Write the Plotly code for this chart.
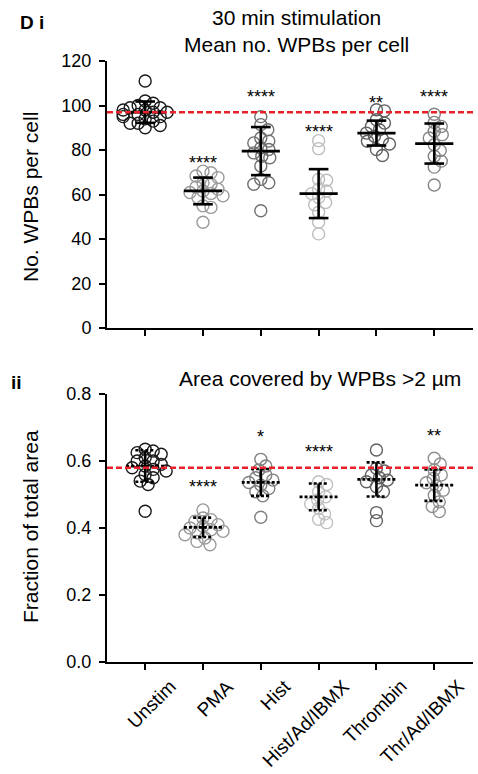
import numpy as np
import plotly.graph_objects as go
from plotly.subplots import make_subplots

categories = ["Unstim", "PMA", "Hist", "Hist/Ad/IBMX", "Thrombin", "Thr/Ad/IBMX"]

# Panel i: mean no. WPBs per cell
wpb_unstim = [111, 102, 101, 100, 99, 99, 98, 98, 97, 97, 96, 96, 95, 95, 94, 93, 92, 92, 91, 90]
wpb_pma = [70.5, 69.8, 68.3, 67.6, 65.3, 64.6, 63.4, 62.4, 61.6, 60.9, 60.5, 59.4, 58.6, 54.9, 54.2, 47.5]
wpb_hist = [95, 91.4, 89.1, 85.4, 84, 83.2, 80.9, 80.2, 78.7, 77.2, 76.5, 72.8, 66.8, 65.3, 64.6, 52.7]
wpb_histad = [84.2, 80.6, 66.8, 66.4, 62.4, 61.6, 60.4, 58.6, 56.4, 55.4, 52, 47.5, 42.3]
wpb_thr = [98.1, 97.6, 93.6, 92.1, 90.6, 89.1, 87.6, 86.2, 85, 83.9, 82.7, 80.2, 77.5]
wpb_thrad = [96.1, 92.4, 90.6, 88.4, 86.9, 85.4, 82.4, 79.8, 77.2, 75, 72.3, 64.3]
wpb_mean = [97, 61.6, 79.5, 60.4, 87.6, 82.9]
wpb_sd = [4.8, 6.0, 10.8, 11.0, 5.6, 9.0]
wpb_stars = ["", "****", "****", "****", "**", "****"]
wpb_star_y = [None, 74, 104, 88, 101, 104]
wpb_ref = 97

# Panel ii: fraction of total area
area_unstim = [0.635, 0.63, 0.625, 0.62, 0.61, 0.6, 0.6, 0.59, 0.585, 0.58, 0.575, 0.57, 0.56, 0.55, 0.54, 0.53, 0.45]
area_pma = [0.454, 0.43, 0.425, 0.42, 0.41, 0.405, 0.4, 0.395, 0.39, 0.385, 0.38, 0.37, 0.36, 0.35]
area_hist = [0.605, 0.585, 0.573, 0.558, 0.55, 0.543, 0.536, 0.528, 0.518, 0.508, 0.496, 0.432]
area_histad = [0.538, 0.53, 0.508, 0.493, 0.484, 0.472, 0.459, 0.442, 0.426, 0.416]
area_thr = [0.633, 0.578, 0.57, 0.558, 0.55, 0.543, 0.538, 0.523, 0.508, 0.446, 0.422]
area_thrad = [0.608, 0.591, 0.573, 0.558, 0.548, 0.535, 0.525, 0.513, 0.498, 0.478, 0.464, 0.449]
area_mean = [0.585, 0.402, 0.536, 0.493, 0.545, 0.528]
area_sd = [0.047, 0.029, 0.040, 0.040, 0.051, 0.047]
area_stars = ["", "****", "*", "****", "", "**"]
area_star_y = [None, 0.522, 0.671, 0.627, None, 0.674]
area_ref = 0.58

wpb_groups = [wpb_unstim, wpb_pma, wpb_hist, wpb_histad, wpb_thr, wpb_thrad]
area_groups = [area_unstim, area_pma, area_hist, area_histad, area_thr, area_thrad]

top_colors = ["#1a1a1a", "#9a9a9a", "#707070", "#bdbdbd", "#606060", "#858585"]
bot_colors = ["#1a1a1a", "#9a9a9a", "#808080", "#c0c0c0", "#606060", "#8f8f8f"]

FONT = "Liberation Sans, Arial, sans-serif"
W, H = 478, 774
ML, MR, MT, MB = 107, 5, 61, 112
XR = [-0.66, 5.67]
plot_h = H - MT - MB
plot_w = W - ML - MR
px_per_cat = plot_w / (XR[1] - XR[0])
top_dom = [(662 - 328) / plot_h, 1.0]
bot_dom = [0.0, (662 - 394) / plot_h]


def swarm(values, px_per_unit, dmin=8.0, maxoff=22):
    """Deterministic beeswarm offsets (category units)."""
    order = np.argsort(values)[::-1]
    placed = []
    offs = np.zeros(len(values))
    cands = [0]
    for k in range(1, maxoff + 1):
        cands += [k, -k]
    for idx in order:
        yp = values[idx] * px_per_unit
        best = cands[-1]
        for c in cands:
            ok = all((c - ox) ** 2 + (yp - oy) ** 2 >= dmin ** 2 for ox, oy in placed)
            if ok:
                best = c
                break
        placed.append((best, yp))
        offs[idx] = best / px_per_cat
    return offs


fig = make_subplots(rows=2, cols=1)

panels = [
    (1, wpb_groups, wpb_mean, wpb_sd, top_colors, (top_dom[1] - top_dom[0]) * plot_h / 120.0, "solid"),
    (2, area_groups, area_mean, area_sd, bot_colors, (bot_dom[1] - bot_dom[0]) * plot_h / 0.8, "3px,2px"),
]

for row, groups, means, sds, colors, ppu, hdash in panels:
    for i, vals in enumerate(groups):
        v = np.array(vals, dtype=float)
        xs = i + swarm(v, ppu)
        fig.add_trace(go.Scatter(
            x=xs, y=v, mode="markers",
            marker=dict(symbol="circle-open", size=12, color=colors[i], line=dict(width=1.4, color=colors[i])),
            showlegend=False, hoverinfo="skip"), row=row, col=1)
    for i in range(len(categories)):
        m, s = means[i], sds[i]
        fig.add_trace(go.Scatter(x=[i, i], y=[m - s, m + s], mode="lines",
                                 line=dict(color="black", width=2.6), showlegend=False, hoverinfo="skip"),
                      row=row, col=1)
        for yy in (m - s, m + s):
            fig.add_trace(go.Scatter(x=[i - 0.17, i + 0.17], y=[yy, yy], mode="lines",
                                     line=dict(color="black", width=2.6, dash=hdash),
                                     showlegend=False, hoverinfo="skip"), row=row, col=1)
        fig.add_trace(go.Scatter(x=[i - 0.33, i + 0.33], y=[m, m], mode="lines",
                                 line=dict(color="black", width=2.8, dash=hdash),
                                 showlegend=False, hoverinfo="skip"), row=row, col=1)

fig.add_shape(type="line", xref="x domain", yref="y", x0=0, x1=1, y0=wpb_ref, y1=wpb_ref,
              line=dict(color="#e8212a", width=2.4, dash="6px,3px"))
fig.add_shape(type="line", xref="x2 domain", yref="y2", x0=0, x1=1, y0=area_ref, y1=area_ref,
              line=dict(color="#e8212a", width=2.4, dash="6px,3px"))

for i, (t, yy) in enumerate(zip(wpb_stars, wpb_star_y)):
    if t:
        fig.add_annotation(x=i, y=yy, xref="x", yref="y", text=t, showarrow=False,
                           font=dict(size=18, family=FONT, color="black"))
for i, (t, yy) in enumerate(zip(area_stars, area_star_y)):
    if t:
        fig.add_annotation(x=i, y=yy, xref="x2", yref="y2", text=t, showarrow=False,
                           font=dict(size=18, family=FONT, color="black"))

axis_common = dict(showline=True, linecolor="black", linewidth=2, ticks="outside",
                   tickcolor="black", tickwidth=2, ticklen=6, showgrid=False, zeroline=False,
                   automargin=False, tickfont=dict(size=18, family=FONT, color="black"))

fig.update_xaxes(range=XR, tickvals=list(range(len(categories))), showticklabels=False, **axis_common)
fig.update_yaxes(range=[0, 120], tickvals=[0, 20, 40, 60, 80, 100, 120], domain=top_dom,
                 ticklabelstandoff=4, row=1, col=1, **axis_common)
fig.update_yaxes(range=[0, 0.8], tickvals=[0, 0.2, 0.4, 0.6, 0.8], tickformat=".1f", domain=bot_dom,
                 ticklabelstandoff=4, row=2, col=1, **axis_common)
fig.update_xaxes(domain=[0, 1])


def px_x(p):
    return (p - ML) / plot_w


def px_y(p):
    return (H - MB - p) / plot_h


# rotated category labels
for i, c in enumerate(categories):
    fig.add_annotation(x=i + 37 / px_per_cat, y=px_y(673), xref="x2", yref="paper", text=c,
                       showarrow=False, textangle=-45, xanchor="right", yanchor="top",
                       font=dict(size=19, family=FONT, color="black"))

texts = [
    ("30 min stimulation<br>Mean no. WPBs per cell", 296, 31, "center", 21, 0),
    ("Area covered by WPBs >2 µm", 320, 378, "center", 21, 0),
    ("<b>D i</b>", 18, 22, "left", 19, 0),
    ("<b>ii</b>", 9, 382, "left", 19, 0),
    ("No. WPBs per cell", 30, 197, "center", 21, -90),
    ("Fraction of total area", 30, 527, "center", 21, -90),
]
for t, x, y, xa, sz, ang in texts:
    fig.add_annotation(x=px_x(x), y=px_y(y), xref="paper", yref="paper", text=t, showarrow=False,
                       xanchor=xa, yanchor="middle", textangle=ang,
                       font=dict(size=sz, family=FONT, color="black"))

fig.update_layout(width=W, height=H, margin=dict(l=ML, r=MR, t=MT, b=MB),
                  plot_bgcolor="white", paper_bgcolor="white", showlegend=False,
                  font=dict(family=FONT, color="black"))

fig.write_html("out.html", config={"displayModeBar": False},
               post_script="document.body.style.margin='0px';document.body.style.overflow='hidden';")
